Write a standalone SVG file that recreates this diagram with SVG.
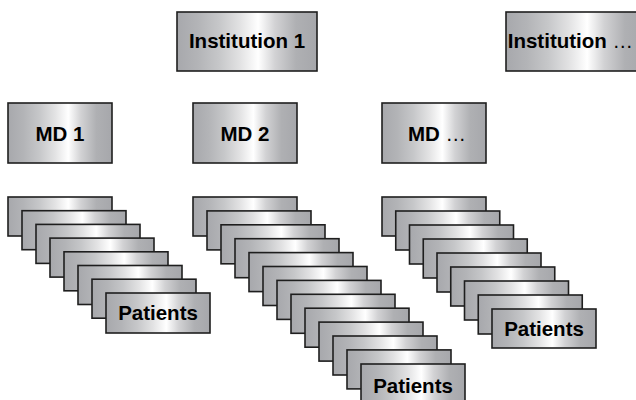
<svg xmlns="http://www.w3.org/2000/svg" width="636" height="400" viewBox="0 0 636 400">
  <defs>
    <linearGradient id="metal" x1="0" y1="0" x2="1" y2="0">
      <stop offset="0" stop-color="#a7a8ac"/>
      <stop offset="0.15" stop-color="#b3b4b7"/>
      <stop offset="0.3" stop-color="#c6c7c9"/>
      <stop offset="0.45" stop-color="#e2e2e3"/>
      <stop offset="0.58" stop-color="#ffffff"/>
      <stop offset="0.7" stop-color="#d2d2d4"/>
      <stop offset="0.85" stop-color="#afb0b3"/>
      <stop offset="1" stop-color="#a6a7ab"/>
    </linearGradient>
  </defs>
  <style>
    .box { fill: url(#metal); stroke: #1e1e1e; stroke-width: 1.6; }
    .lbl { font-family: "Liberation Sans", Arial, Helvetica, sans-serif; font-weight: bold; font-size: 20.5px; fill: #000; text-anchor: middle; }
    .dots { font-weight: normal; }
  </style>
  <rect width="636" height="400" fill="#ffffff"/>

  <g id="institution-1">
    <rect class="box" x="177" y="12" width="140" height="59"/>
    <text class="lbl" x="247" y="48">Institution 1</text>
  </g>
  <g id="institution-n">
    <rect class="box" x="506" y="12" width="140" height="59"/>
    <text class="lbl" x="633" y="48" style="text-anchor:end">Institution <tspan class="dots">…</tspan></text>
  </g>

  <g id="md-1">
    <rect class="box" x="8" y="103" width="104" height="60"/>
    <text class="lbl" x="60" y="141">MD 1</text>
  </g>
  <g id="md-2">
    <rect class="box" x="193" y="103" width="104" height="60"/>
    <text class="lbl" x="245" y="141">MD 2</text>
  </g>
  <g id="md-n">
    <rect class="box" x="382" y="103" width="104" height="60"/>
    <text class="lbl" x="437" y="141">MD <tspan class="dots">…</tspan></text>
  </g>

  <g id="patients-md1">
    <rect class="box" x="8" y="197" width="104" height="39"/>
    <rect class="box" x="22" y="210.7" width="104" height="39"/>
    <rect class="box" x="36" y="224.4" width="104" height="39"/>
    <rect class="box" x="50" y="238.1" width="104" height="39"/>
    <rect class="box" x="64" y="251.8" width="104" height="39"/>
    <rect class="box" x="78" y="265.5" width="104" height="39"/>
    <rect class="box" x="92" y="279.2" width="104" height="39"/>
    <rect class="box" x="106" y="293" width="104" height="40"/>
    <text class="lbl" x="158" y="320">Patients</text>
  </g>

  <g id="patients-md2">
    <rect class="box" x="193" y="197" width="104" height="39"/>
    <rect class="box" x="207" y="210.9" width="104" height="39"/>
    <rect class="box" x="221" y="224.8" width="104" height="39"/>
    <rect class="box" x="235" y="238.7" width="104" height="39"/>
    <rect class="box" x="249" y="252.6" width="104" height="39"/>
    <rect class="box" x="263" y="266.5" width="104" height="39"/>
    <rect class="box" x="277" y="280.4" width="104" height="39"/>
    <rect class="box" x="291" y="294.3" width="104" height="39"/>
    <rect class="box" x="305" y="308.2" width="104" height="39"/>
    <rect class="box" x="319" y="322.1" width="104" height="39"/>
    <rect class="box" x="333" y="336" width="104" height="39"/>
    <rect class="box" x="347" y="349.9" width="104" height="39"/>
    <rect class="box" x="361" y="364" width="104" height="40"/>
    <text class="lbl" x="413" y="393">Patients</text>
  </g>

  <g id="patients-mdn">
    <rect class="box" x="382" y="197" width="104" height="39"/>
    <rect class="box" x="395.75" y="211" width="104" height="39"/>
    <rect class="box" x="409.5" y="225" width="104" height="39"/>
    <rect class="box" x="423.25" y="239" width="104" height="39"/>
    <rect class="box" x="437" y="253" width="104" height="39"/>
    <rect class="box" x="450.75" y="267" width="104" height="39"/>
    <rect class="box" x="464.5" y="281" width="104" height="39"/>
    <rect class="box" x="478.25" y="295" width="104" height="39"/>
    <rect class="box" x="492" y="309" width="104" height="39"/>
    <text class="lbl" x="544" y="336">Patients</text>
  </g>

  <g id="connectors"/>
</svg>
